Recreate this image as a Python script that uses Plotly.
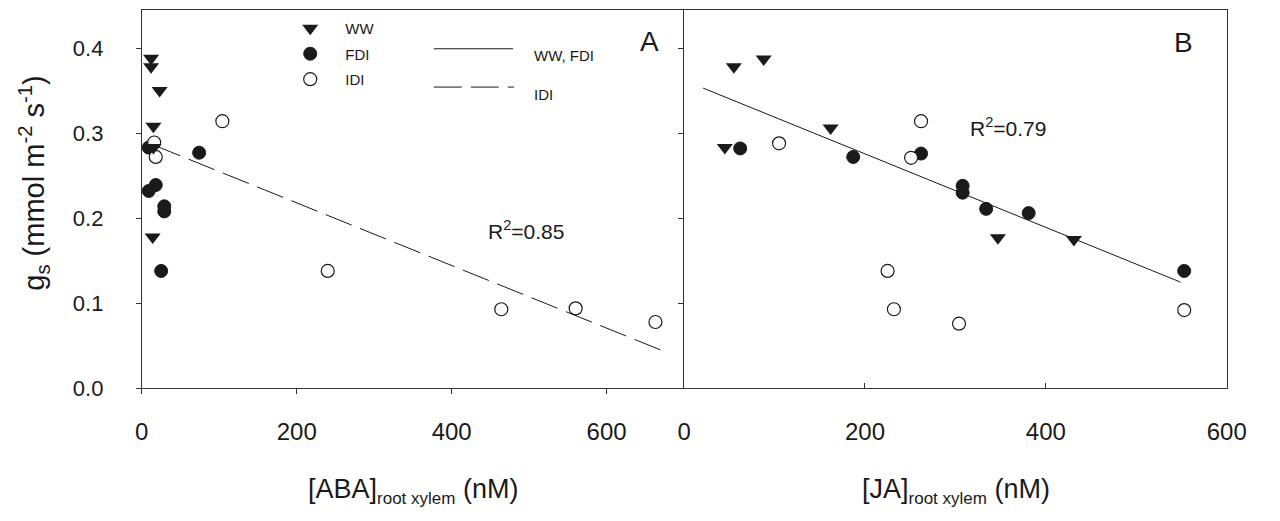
import plotly.graph_objects as go

W, H = 1280, 521

# ---------------- data ----------------
# Panel A: x = [ABA] root xylem (nM), y = gs
ww_aba = [12, 12, 23, 15, 15, 14]
ww_gs_a = [0.388, 0.378, 0.350, 0.308, 0.283, 0.178]
fdi_aba = [9, 74, 18, 9, 29, 29, 25]
fdi_gs_a = [0.283, 0.277, 0.239, 0.232, 0.214, 0.208, 0.138]
idi_aba = [104, 16, 18, 240, 464, 560, 663]
idi_gs_a = [0.314, 0.289, 0.272, 0.138, 0.093, 0.094, 0.078]

# Panel B: x = [JA] root xylem (nM), y = gs
ww_ja = [55, 88, 162, 45, 347, 431]
ww_gs_b = [0.378, 0.387, 0.306, 0.283, 0.177, 0.175]
fdi_ja = [62, 187, 262, 308, 308, 334, 381, 553]
fdi_gs_b = [0.282, 0.272, 0.276, 0.238, 0.230, 0.211, 0.206, 0.138]
idi_ja = [105, 262, 251, 225, 232, 304, 553]
idi_gs_b = [0.288, 0.314, 0.271, 0.138, 0.093, 0.076, 0.092]

# Regression lines: [intercept, slope] and x extent
idi_aba_fit = [0.2916, -0.000368]
idi_aba_fit_range = [16, 675]
wwfdi_ja_fit = [0.362, -0.000432]
wwfdi_ja_fit_range = [21, 549]
r2_a = 0.85
r2_b = 0.79

x_ticks_a = [0, 200, 400, 600]
x_ticks_b = [0, 200, 400, 600]
y_ticks = [0.0, 0.1, 0.2, 0.3, 0.4]

# ---------------- styling ----------------
FONT = "Liberation Sans, Arial, sans-serif"
INK = "#1a1a1a"
AXC = "#333333"


def px(x):
    return x / W


def py(y):
    return 1 - y / H


def line_y(coef, xs):
    return [coef[0] + coef[1] * x for x in xs]


ww_marker = dict(symbol="triangle-down", size=14, color=INK, line=dict(width=0))
fdi_marker = dict(symbol="circle", size=13, color=INK, line=dict(width=1, color=INK))
idi_marker = dict(symbol="circle", size=13, color="white", line=dict(width=1.2, color=INK))

fig = go.Figure()

# Panel A
fig.add_trace(go.Scatter(x=fdi_aba, y=fdi_gs_a, mode="markers", marker=fdi_marker,
                         name="FDI", legendrank=2, legendgroup="g2", xaxis="x", yaxis="y"))
fig.add_trace(go.Scatter(x=idi_aba, y=idi_gs_a, mode="markers", marker=idi_marker,
                         name="IDI", legendrank=3, legendgroup="g3", xaxis="x", yaxis="y"))
fig.add_trace(go.Scatter(x=ww_aba, y=ww_gs_a, mode="markers", marker=ww_marker,
                         name="WW", legendrank=1, legendgroup="g1", xaxis="x", yaxis="y"))
fig.add_trace(go.Scatter(x=idi_aba_fit_range, y=line_y(idi_aba_fit, idi_aba_fit_range),
                         mode="lines", line=dict(color=INK, width=1, dash="28px,9px"),
                         showlegend=False, xaxis="x", yaxis="y"))

# Panel B
fig.add_trace(go.Scatter(x=wwfdi_ja_fit_range, y=line_y(wwfdi_ja_fit, wwfdi_ja_fit_range),
                         mode="lines", line=dict(color=INK, width=1),
                         showlegend=False, xaxis="x2", yaxis="y2"))
fig.add_trace(go.Scatter(x=fdi_ja, y=fdi_gs_b, mode="markers", marker=fdi_marker,
                         showlegend=False, xaxis="x2", yaxis="y2"))
fig.add_trace(go.Scatter(x=idi_ja, y=idi_gs_b, mode="markers", marker=idi_marker,
                         showlegend=False, xaxis="x2", yaxis="y2"))
fig.add_trace(go.Scatter(x=ww_ja, y=ww_gs_b, mode="markers", marker=ww_marker,
                         showlegend=False, xaxis="x2", yaxis="y2"))

x_left, x_mid, x_right = 137.7, 691.7, 1246
y_top, y_bot = 10, 398.3
ydom = [py(y_bot), py(y_top)]

common_axis = dict(showgrid=False, zeroline=False, showline=True, linecolor=AXC,
                   linewidth=1, tickcolor=AXC, ticklen=5, tickwidth=1)

fig.update_layout(
    width=W, height=H,
    margin=dict(l=0, r=0, t=0, b=0),
    paper_bgcolor="white", plot_bgcolor="white",
    font=dict(family=FONT, color=INK),
    xaxis=dict(domain=[px(x_left), px(x_mid)], range=[0, 700], tickvals=x_ticks_a,
               ticks="outside", mirror=True, anchor="y",
               tickfont=dict(size=24), ticklabelstandoff=17, **common_axis),
    yaxis=dict(domain=ydom, range=[0, 0.445], tickvals=y_ticks, tickformat=".1f",
               ticks="outside", anchor="x",
               tickfont=dict(size=22), ticklabelstandoff=28, **common_axis),
    xaxis2=dict(domain=[px(x_mid), px(x_right)], range=[0, 600], tickvals=x_ticks_b,
                ticks="inside", mirror=True, anchor="y2",
                tickfont=dict(size=24), ticklabelstandoff=22, **common_axis),
    yaxis2=dict(domain=ydom, range=[0, 0.445], tickvals=y_ticks, showticklabels=False,
                ticks="outside", mirror=True, anchor="x2", **common_axis),
    legend=dict(x=px(274), y=py(12.25), xanchor="left", yanchor="top",
                bgcolor="rgba(0,0,0,0)", borderwidth=0, itemwidth=60,
                font=dict(size=15, family=FONT, color=INK), tracegroupgap=3,
                traceorder="grouped", itemclick=False),
    showlegend=True,
)

shapes = [
    dict(type="line", xref="paper", yref="paper", x0=px(436), x1=px(517),
         y0=py(50), y1=py(50), line=dict(color=INK, width=1)),
    dict(type="line", xref="paper", yref="paper", x0=px(436), x1=px(518),
         y0=py(89.3), y1=py(89.3), line=dict(color=INK, width=1, dash="28px,9px")),
]
fig.update_layout(shapes=shapes)

sub = "<sub><span style='font-size:17px'>root xylem</span></sub>"
annotations = [
    dict(text="WW, FDI", x=px(536), y=py(56.5), xanchor="left", yanchor="middle",
         font=dict(size=15)),
    dict(text="IDI", x=px(536), y=py(96.5), xanchor="left", yanchor="middle",
         font=dict(size=15)),
    dict(text="A", x=px(656), y=py(42.5), xanchor="center", yanchor="middle",
         font=dict(size=28)),
    dict(text="B", x=px(1202), y=py(44), xanchor="center", yanchor="middle",
         font=dict(size=28)),
    dict(text=f"R<sup>2</sup>={r2_a:.2f}", x=px(489), y=py(236), xanchor="left",
         yanchor="middle", font=dict(size=21)),
    dict(text=f"R<sup>2</sup>={r2_b:.2f}", x=px(982), y=py(130), xanchor="left",
         yanchor="middle", font=dict(size=21)),
    dict(text="[ABA]" + sub + " (nM)", x=px(414.7), y=py(504), xanchor="center",
         yanchor="middle", font=dict(size=27)),
    dict(text="[JA]" + sub + " (nM)", x=px(969), y=py(504), xanchor="center",
         yanchor="middle", font=dict(size=27)),
    dict(text="g<sub>s</sub> (mmol m<sup>-2</sup> s<sup>-1</sup>)", x=px(28),
         y=py(188), xanchor="center", yanchor="middle", textangle=-90,
         font=dict(size=29)),
]
for a in annotations:
    a.update(xref="paper", yref="paper", showarrow=False)
fig.update_layout(annotations=annotations)

fig.write_html("out.html")
